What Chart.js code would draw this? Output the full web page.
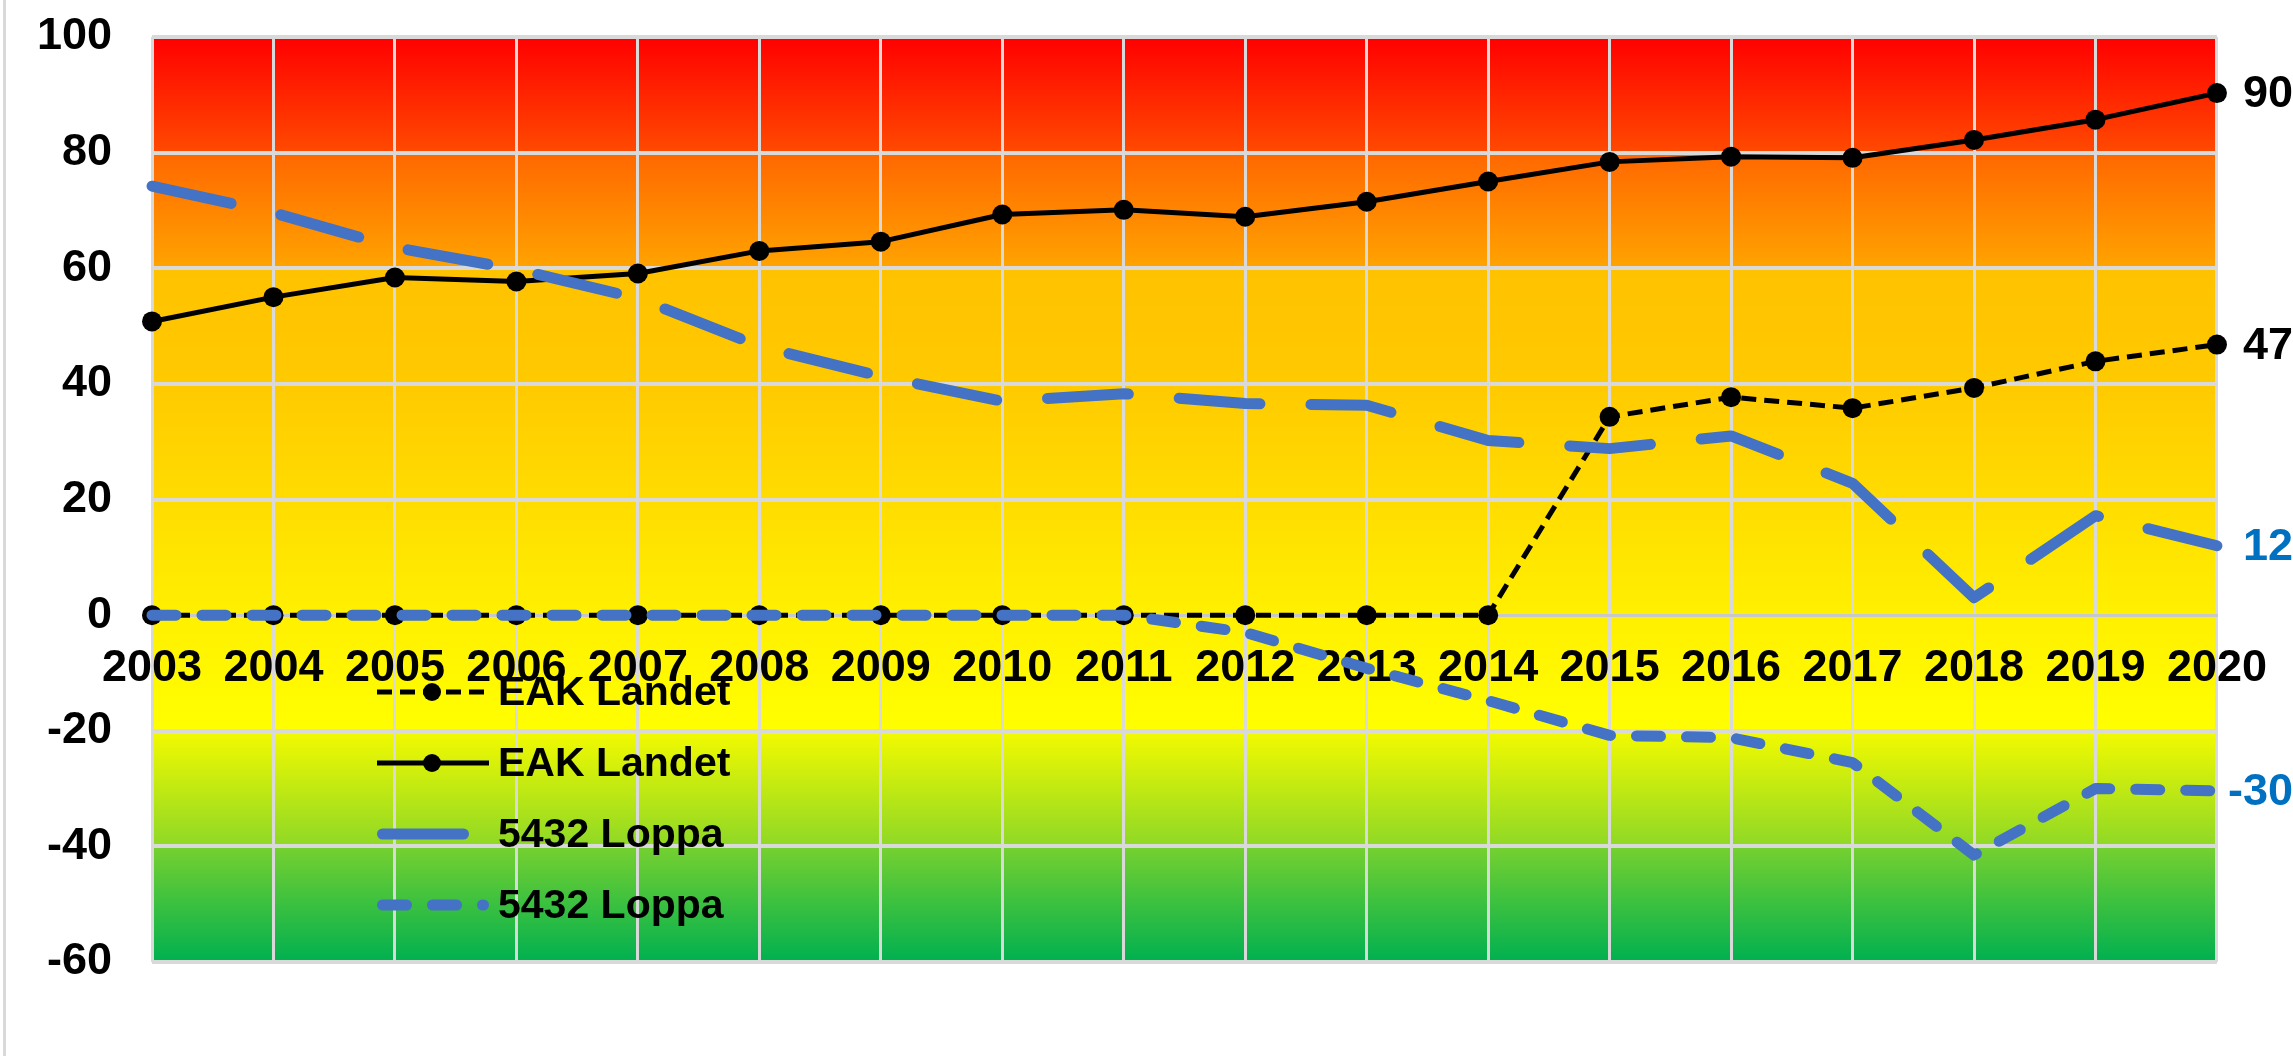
<!DOCTYPE html>
<html>
<head>
<meta charset="utf-8">
<script src="https://cdn.jsdelivr.net/npm/chart.js@4.4.0/dist/chart.umd.min.js"></script>
<style>
  html, body { margin: 0; padding: 0; background: #fff; }
  canvas { display: block; }
</style>
</head>
<body>
<canvas id="myChart" width="2293" height="1056"></canvas>
<script>
var years = ['2003', '2004', '2005', '2006', '2007', '2008', '2009', '2010', '2011',
             '2012', '2013', '2014', '2015', '2016', '2017', '2018', '2019', '2020'];

// EAK Landet, dashed line
var eakDashed = [0, 0, 0, 0, 0, 0, 0, 0, 0, 0, 0, 0, 34.3, 37.7, 35.8, 39.3, 43.9, 46.8];
// EAK Landet, solid line
var eakSolid = [50.8, 55.0, 58.4, 57.7, 59.1, 63.0, 64.6, 69.3, 70.1, 68.9, 71.5, 75.0, 78.4, 79.3, 79.1, 82.2, 85.7, 90.3];
// 5432 Loppa, long dash
var loppaLong = [74.2, 69.6, 63.6, 59.8, 54.8, 46.5, 41.3, 37.0, 38.3, 36.6, 36.3, 30.2, 28.8, 31.0, 22.8, 3.0, 17.2, 12.0];
// 5432 Loppa, short dash
var loppaShort = [0, 0, 0, 0, 0, 0, 0, 0, 0, -3.0, -9.2, -14.8, -20.8, -21.2, -25.5, -41.5, -30.0, -30.4];

var yMin = -60, yMax = 100, yStep = 20;

var fontFamily = '"Liberation Sans", Arial, sans-serif';

// background colour bands of the plot area (value -> colour)
var bandValues = [100, 80, 80, 60, 60, 40, 20, 0, -20, -20, -40, -40, -60];
var bandColors = ['#FF0000', '#FF4A00', '#FF6800', '#FFA400', '#FFC200', '#FFCA00', '#FFDC00',
                  '#FFF000', '#FFFF00', '#F2FA00', '#8ED826', '#74D030', '#00B050'];

var bands = {
  id: 'bands',
  beforeDraw: function(chart) {
    var ctx = chart.ctx, a = chart.chartArea, y = chart.scales.y;
    ctx.save();
    ctx.fillStyle = '#fff';
    ctx.fillRect(0, 0, chart.width, chart.height);
    ctx.fillStyle = '#D9D9D9';
    ctx.fillRect(3, 0, 3, chart.height);
    var g = ctx.createLinearGradient(0, a.top, 0, a.bottom);
    var last = -1;
    for (var i = 0; i < bandValues.length; i++) {
      var off = (y.getPixelForValue(bandValues[i]) - a.top) / (a.bottom - a.top);
      if (off <= last) off = last + 0.002;
      off = Math.max(0, Math.min(1, off));
      g.addColorStop(off, bandColors[i]);
      last = off;
    }
    ctx.fillStyle = g;
    ctx.fillRect(a.left, a.top, a.right - a.left, a.bottom - a.top);
    ctx.restore();
  }
};

var endLabels = {
  id: 'endLabels',
  afterDatasetsDraw: function(chart) {
    var ctx = chart.ctx;
    ctx.save();
    ctx.font = 'bold 45px ' + fontFamily;
    ctx.textBaseline = 'middle';
    ctx.textAlign = 'left';
    chart.data.datasets.forEach(function(ds, i) {
      var meta = chart.getDatasetMeta(i);
      var pt = meta.data[meta.data.length - 1];
      var txt = String(Math.round(ds.data[ds.data.length - 1]));
      var w = ctx.measureText(txt).width;
      var x = Math.min(pt.x + 27, chart.width - w);
      ctx.fillStyle = ds.labelColor;
      ctx.fillText(txt, x, pt.y + 2);
    });
    ctx.restore();
  }
};

var legendX = 377, legendTop = 692, legendGap = 71, legendLen = 112, legendTextX = 498;

var innerLegend = {
  id: 'innerLegend',
  afterDraw: function(chart) {
    var ctx = chart.ctx;
    chart.data.datasets.forEach(function(ds, i) {
      var y = legendTop + i * legendGap;
      var cap = ds.borderCapStyle === 'round' ? ds.borderWidth / 2 : 0;
      ctx.save();
      ctx.strokeStyle = ds.borderColor;
      ctx.lineWidth = ds.borderWidth;
      ctx.lineCap = ds.borderCapStyle || 'butt';
      ctx.setLineDash(ds.borderDash || []);
      ctx.beginPath();
      ctx.moveTo(legendX + cap, y);
      ctx.lineTo(legendX + legendLen - cap, y);
      ctx.stroke();
      if (ds.pointRadius > 0) {
        ctx.setLineDash([]);
        ctx.fillStyle = ds.pointBackgroundColor;
        ctx.beginPath();
        ctx.arc(legendX + 55, y, ds.pointRadius - 1, 0, Math.PI * 2);
        ctx.fill();
      }
      ctx.fillStyle = '#000';
      ctx.font = 'bold 41px ' + fontFamily;
      ctx.textBaseline = 'middle';
      ctx.fillText(ds.label, legendTextX, y + 2);
      ctx.restore();
    });
  }
};

var ctx = document.getElementById('myChart').getContext('2d');
var myChart = new Chart(ctx, {
  type: 'line',
  data: {
    labels: years,
    datasets: [{
      label: 'EAK Landet',
      data: eakDashed,
      borderColor: '#000',
      borderWidth: 5,
      borderDash: [15, 8],
      pointRadius: 10,
      pointBackgroundColor: '#000',
      pointBorderWidth: 0,
      labelColor: '#000',
      order: 3
    }, {
      label: 'EAK Landet',
      data: eakSolid,
      borderColor: '#000',
      borderWidth: 5,
      pointRadius: 10,
      pointBackgroundColor: '#000',
      pointBorderWidth: 0,
      labelColor: '#000',
      order: 2
    }, {
      label: '5432 Loppa',
      data: loppaLong,
      borderColor: '#4472C4',
      borderWidth: 11,
      borderDash: [81, 51],
      borderCapStyle: 'round',
      pointRadius: 0,
      labelColor: '#0070C0',
      order: 1
    }, {
      label: '5432 Loppa',
      data: loppaShort,
      borderColor: '#4472C4',
      borderWidth: 11,
      borderDash: [24, 26],
      borderCapStyle: 'round',
      pointRadius: 0,
      labelColor: '#0070C0',
      order: 0
    }]
  },
  options: {
    responsive: false,
    animation: false,
    devicePixelRatio: 1,
    clip: false,
    elements: {
      line: { tension: 0, borderJoinStyle: 'round', fill: false }
    },
    layout: {
      padding: { left: 0, top: 37, right: 73, bottom: 94 }
    },
    plugins: {
      legend: { display: false },
      tooltip: { enabled: false }
    },
    scales: {
      x: {
        position: { y: 0 },
        grid: { color: '#D9D9D9', lineWidth: 3, drawTicks: false },
        border: { display: true, color: '#C8C8C8', width: 3 },
        ticks: {
          color: '#000',
          font: { family: fontFamily, size: 45, weight: 'bold' },
          padding: 26,
          autoSkip: false,
          maxRotation: 0
        }
      },
      y: {
        min: yMin,
        max: yMax,
        grid: { color: '#D9D9D9', lineWidth: 4, drawTicks: false },
        border: { display: false },
        ticks: {
          stepSize: yStep,
          color: '#000',
          font: { family: fontFamily, size: 45, weight: 'bold' },
          padding: 40
        },
        afterFit: function(scale) {
          scale.width = 152;
          // the label padding should not push the plot area down
          scale.paddingTop = 0;
          scale.paddingBottom = 0;
        }
      }
    }
  },
  plugins: [bands, endLabels, innerLegend]
});
</script>
</body>
</html>
